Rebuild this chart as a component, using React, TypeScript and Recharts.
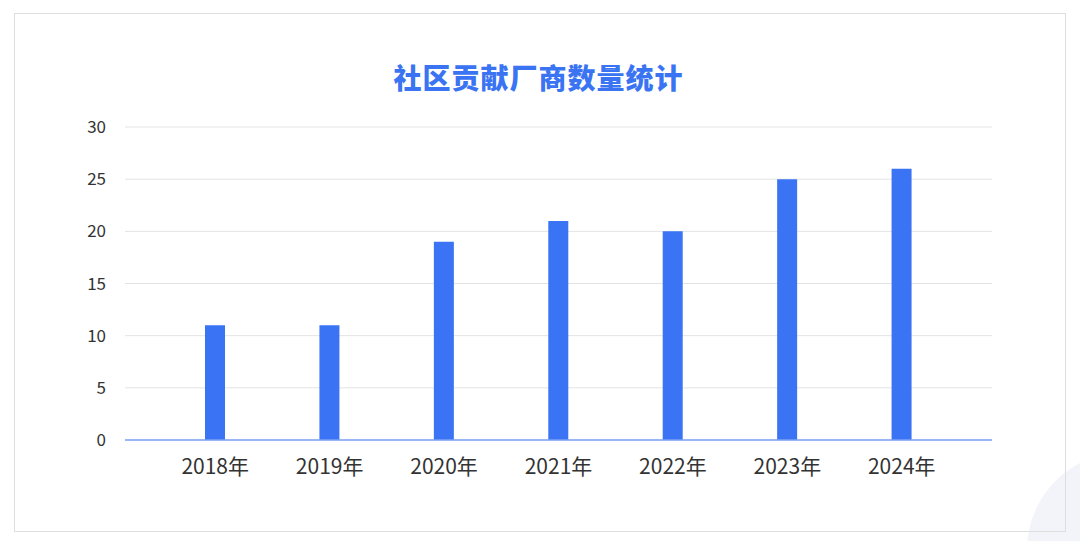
import React from "react";
import { Bar, BarChart, CartesianGrid, XAxis, YAxis } from "recharts";

const years = ["2018年", "2019年", "2020年", "2021年", "2022年", "2023年", "2024年"];
const vendors = [11, 11, 19, 21, 20, 25, 26];
const yTicks = [0, 5, 10, 15, 20, 25, 30];

const font = '"Noto Sans CJK SC", "Noto Sans", sans-serif';

const data = years.map((year, i) => ({ year, vendors: vendors[i] }));

export default function App() {
  return (
    <div
      style={{
        position: "absolute",
        left: 0,
        top: 0,
        width: 1080,
        height: 541,
        background: "#fff",
        overflow: "hidden",
        fontFamily: font,
      }}
    >
      {/* faint decorative circle, bottom right */}
      <div
        style={{
          position: "absolute",
          left: 1027,
          top: 452,
          width: 196,
          height: 196,
          borderRadius: "50%",
          background: "#f3f4fa",
        }}
      />
      <div
        style={{
          position: "absolute",
          left: 14,
          top: 13,
          width: 1050,
          height: 517,
          border: "1px solid #dedede",
        }}
      />
      <div
        style={{
          position: "absolute",
          left: 0,
          top: 58,
          width: 1077,
          textAlign: "center",
          fontSize: 28,
          fontWeight: 900,
          color: "#3a74f2",
          letterSpacing: 1,
          lineHeight: "38px",
        }}
      >
        社区贡献厂商数量统计
      </div>
      <div style={{ position: "absolute", left: 0, top: 0 }}>
        <BarChart
          width={1080}
          height={541}
          data={data}
          margin={{ top: 127, right: 88, bottom: 1, left: 0 }}
        >
          <CartesianGrid vertical={false} stroke="#e3e3e3" />
          <XAxis
            dataKey="year"
            height={100}
            padding={{ left: 33, right: 33 }}
            tickLine={false}
            tickSize={0}
            tickMargin={19}
            axisLine={{ stroke: "#7ea2f6", strokeWidth: 1.5 }}
            tick={{ fill: "#333", fontSize: 21, fontFamily: font }}
          />
          <YAxis
            width={125}
            domain={[0, 30]}
            ticks={yTicks}
            axisLine={false}
            tickLine={false}
            tickSize={0}
            tickMargin={19}
            tick={{ fill: "#333", fontSize: 17, fontFamily: font }}
          />
          <Bar
            dataKey="vendors"
            fill="#3a74f4"
            barSize={20}
            isAnimationActive={false}
          />
        </BarChart>
      </div>
    </div>
  );
}
